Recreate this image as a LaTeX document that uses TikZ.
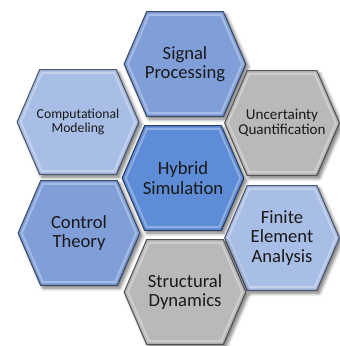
\documentclass[tikz,border=0pt]{standalone}
\usepackage{fontspec}
\setmainfont{Carlito}
\usetikzlibrary{calc, backgrounds, shadows.blur}
\definecolor{hexmid}{HTML}{809FD9}
\definecolor{hexdark}{HTML}{5E8CD6}
\definecolor{hexlight}{HTML}{A9BEE6}
\definecolor{hexgray}{HTML}{B9B9B9}
\begin{document}
\begin{tikzpicture}[
  x=0.02cm, y=-0.02cm,
  hexbox/.style={rectangle, minimum width=2.42cm, minimum height=2.08cm, inner sep=0pt,
    align=center, text=black!90, font=\fontsize{10.6}{11.2}\selectfont},
  smalltext/.style={font=\fontsize{#1}{#1}\selectfont},
  hexface/.style={fill=#1, draw=#1!45!black, line width=0.6pt,
    blur shadow={shadow xshift=1.4pt, shadow yshift=-1.6pt, shadow blur steps=6, shadow opacity=55}},
  hexbevel/.style={draw=#1!70!white, line width=1.1pt, line join=round}
]
  \useasboundingbox (0,0) rectangle (340,346);

  % centre
  \node[hexbox] (hybrid) at (183,178) {Hybrid\\Simulation};

  % ring
  \node[hexbox] (signal) at (185,64) {Signal\\Processing};
  \node[hexbox, smalltext=7.8] (compmod) at (78,122) {Computational\\Modeling};
  \node[hexbox, smalltext=8.6, minimum width=2.28cm] (uncert) at (282,123) {Uncertainty\\Quantification};
  \node[hexbox] (control) at (79,233) {Control\\Theory};
  \node[hexbox, minimum width=2.28cm] (finite) at (282,238) {Finite\\Element\\Analysis};
  \node[hexbox] (structdyn) at (185,292) {Structural\\Dynamics};

  % hexagon faces behind the labels
  \begin{pgfonlayer}{background}
    \foreach \n/\c in {hybrid/hexdark, signal/hexmid, compmod/hexlight, uncert/hexgray,
                      control/hexmid, finite/hexlight, structdyn/hexgray} {
      \coordinate (\n-w) at (\n.west);
      \coordinate (\n-nw) at ([xshift=0.45cm]\n.north west);
      \coordinate (\n-ne) at ([xshift=-0.45cm]\n.north east);
      \coordinate (\n-e) at (\n.east);
      \coordinate (\n-se) at ([xshift=-0.45cm]\n.south east);
      \coordinate (\n-sw) at ([xshift=0.45cm]\n.south west);
      \path[hexface=\c] (\n-w) -- (\n-nw) -- (\n-ne) -- (\n-e) -- (\n-se) -- (\n-sw) -- cycle;
      \path[hexbevel=\c] ($(\n)!0.94!(\n-w)$) -- ($(\n)!0.94!(\n-nw)$) -- ($(\n)!0.94!(\n-ne)$)
        -- ($(\n)!0.94!(\n-e)$) -- ($(\n)!0.94!(\n-se)$) -- ($(\n)!0.94!(\n-sw)$) -- cycle;
    }
  \end{pgfonlayer}
\end{tikzpicture}
\end{document}
